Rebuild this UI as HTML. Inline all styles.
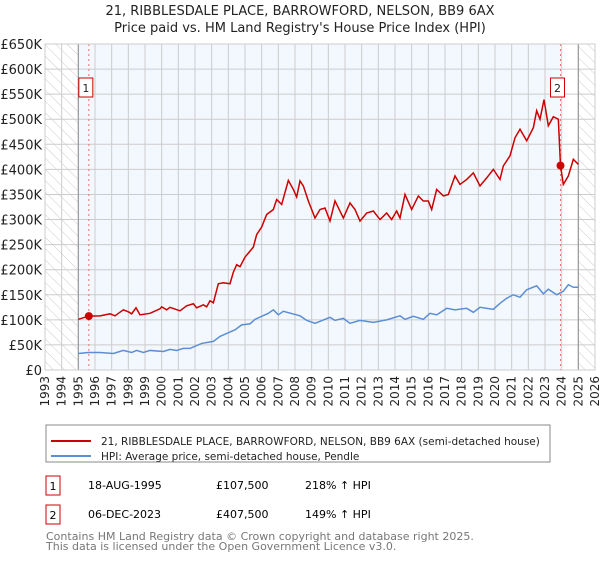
<!DOCTYPE html>
<html><head><meta charset="utf-8"><style>
body{margin:0;background:#fff;font-family:"Liberation Sans","DejaVu Sans",sans-serif;}
svg text{font-family:"DejaVu Sans","Liberation Sans",sans-serif;}
</style></head><body>
<svg id="c" width="600" height="560" viewBox="0 0 600 560" xmlns="http://www.w3.org/2000/svg">
<defs><pattern id="hatch" width="8" height="8" patternUnits="userSpaceOnUse" patternTransform="rotate(-45)"><line x1="0" y1="0" x2="0" y2="8" stroke="#ccc" stroke-width="1"/></pattern></defs>
<text x="300" y="15" text-anchor="middle" font-size="13" fill="#222">21, RIBBLESDALE PLACE, BARROWFORD, NELSON, BB9 6AX</text>
<text x="300" y="32" text-anchor="middle" font-size="13" fill="#222">Price paid vs. HM Land Registry's House Price Index (HPI)</text>
<g id="plot"></g>
<rect x="46" y="425" width="504" height="37" fill="#fff" stroke="#888"/>
<line x1="51" y1="441" x2="91" y2="441" stroke="#cc0000" stroke-width="2"/>
<text x="101" y="445" font-size="10.5" fill="#222">21, RIBBLESDALE PLACE, BARROWFORD, NELSON, BB9 6AX (semi-detached house)</text>
<line x1="51" y1="456" x2="91" y2="456" stroke="#5b8fd4" stroke-width="2"/>
<text x="101" y="460" font-size="10.5" fill="#222">HPI: Average price, semi-detached house, Pendle</text>
<g>
<rect x="46" y="476" width="14" height="19" fill="#fff" stroke="#cc0000"/><text x="53" y="490" text-anchor="middle" font-size="11">1</text>
<text x="88" y="489" font-size="11">18-AUG-1995</text><text x="216" y="489" font-size="11">£107,500</text><text x="305" y="489" font-size="11">218% ↑ HPI</text></g>
<g>
<rect x="46" y="505" width="14" height="19" fill="#fff" stroke="#cc0000"/><text x="53" y="519" text-anchor="middle" font-size="11">2</text>
<text x="88" y="518" font-size="11">06-DEC-2023</text><text x="216" y="518" font-size="11">£407,500</text><text x="305" y="518" font-size="11">149% ↑ HPI</text></g>
<text x="46" y="540" font-size="11" fill="#777">Contains HM Land Registry data © Crown copyright and database right 2025.</text>
<text x="46" y="550" font-size="11" fill="#777">This data is licensed under the Open Government Licence v3.0.</text>
</svg>
<script>
const yTicks=[0,50,100,150,200,250,300,350,400,450,500,550,600,650];
const yTickLabels=["£0","£50K","£100K","£150K","£200K","£250K","£300K","£350K","£400K","£450K","£500K","£550K","£600K","£650K"];
const xYears=[1993,1994,1995,1996,1997,1998,1999,2000,2001,2002,2003,2004,2005,2006,2007,2008,2009,2010,2011,2012,2013,2014,2015,2016,2017,2018,2019,2020,2021,2022,2023,2024,2025,2026];
const redYears=[1995,1995.63,1996.3,1996.9,1997.2,1997.7,1998,1998.2,1998.46,1998.7,1999.3,1999.9,2000,2000.3,2000.5,2001.1,2001.5,2001.9,2002.1,2002.5,2002.7,2002.9,2003.1,2003.4,2003.7,2004.1,2004.3,2004.5,2004.7,2005,2005.5,2005.7,2006,2006.3,2006.7,2006.9,2007.2,2007.6,2007.9,2008.1,2008.3,2008.5,2008.8,2009.2,2009.5,2009.8,2010.1,2010.4,2010.9,2011.3,2011.6,2011.9,2012.3,2012.7,2013.1,2013.5,2013.8,2014.1,2014.3,2014.6,2015,2015.4,2015.7,2016,2016.2,2016.5,2016.9,2017.2,2017.6,2017.9,2018.3,2018.7,2019.1,2019.5,2019.9,2020.3,2020.5,2020.9,2021.2,2021.5,2021.9,2022.3,2022.5,2022.7,2022.94,2023.2,2023.5,2023.8,2023.93,2024.1,2024.4,2024.7,2025];
const redValues=[101,107.5,108,112,108,120,116,112,124,110,113,122,126,120,125,118,128,132,124,130,126,138,134,172,174,172,195,210,206,225,245,270,285,310,320,340,330,378,360,345,377,367,337,303,320,323,297,337,303,333,320,297,313,317,300,313,300,317,303,350,320,347,337,337,320,360,347,350,387,370,380,393,367,383,400,380,407,427,463,480,457,483,517,500,539,487,505,500,407.5,370,387,420,410];
const blueYears=[1995,1995.6,1996.3,1997.1,1997.7,1998.2,1998.5,1998.9,1999.3,2000.1,2000.5,2000.9,2001.3,2001.7,2002.4,2003.1,2003.5,2003.9,2004.4,2004.8,2005.3,2005.6,2006,2006.4,2006.7,2007,2007.3,2008.3,2008.7,2009.2,2010.1,2010.4,2010.9,2011.3,2011.9,2012.7,2013.5,2014.3,2014.6,2015.1,2015.7,2016.1,2016.5,2017.1,2017.6,2018.3,2018.7,2019.1,2019.9,2020.3,2020.7,2021.1,2021.5,2021.9,2022.5,2022.9,2023.2,2023.7,2024.1,2024.4,2024.7,2025];
const blueValues=[33,35,35,33,39,35,39,35,39,37,41,39,43,43,53,57,67,73,80,90,92,101,107,113,120,110,117,108,99,93,105,99,103,93,99,95,100,108,101,107,101,113,110,123,120,123,115,125,121,133,143,150,145,160,168,152,161,150,157,170,165,165];
const sales=[{y:1995.63,v:107.5,n:"1"},{y:2023.93,v:407.5,n:"2"}];
const L=45,R=595,T=44,B=370;
const X=y=>L+(y-1993)*(R-L)/33;
const Y=v=>B-v*(B-T)/650;
const NS="http://www.w3.org/2000/svg";
const g=document.getElementById('plot');
function el(t,a,p){const e=document.createElementNS(NS,t);for(const k in a)e.setAttribute(k,a[k]);(p||g).appendChild(e);return e;}
let e;
e=el('rect',{x:L,y:T,width:R-L,height:B-T,fill:'#fff'});


e=el('rect',{x:X(1995),y:T,width:X(sales[1].y)-X(1995),height:B-T,fill:'#f3f7fe'});


e=el('rect',{x:L,y:T,width:X(1995)-L,height:B-T,fill:'url(#hatch)'});


e=el('rect',{x:X(2025),y:T,width:R-X(2025),height:B-T,fill:'url(#hatch)'});


xYears.forEach(yr=>{
 e=el('line',{x1:X(yr),x2:X(yr),y1:T,y2:B,stroke:'#ccc','stroke-width':1});
 
 
 e=el('text',{x:0,y:0,'font-size':12,fill:'#222','text-anchor':'end',transform:`translate(${X(yr)+4},376) rotate(-90)`});
 e.textContent=yr;
 
 
});
yTicks.forEach((v,i)=>{
 e=el('line',{x1:L,x2:R,y1:Y(v),y2:Y(v),stroke:'#ccc','stroke-width':1});
 
 
 e=el('text',{x:42,y:Y(v)+5,'font-size':13,fill:'#222','text-anchor':'end'});
 e.textContent=yTickLabels[i];
 
 
});
e=el('line',{x1:X(1995),x2:X(1995),y1:T,y2:B,stroke:'#999','stroke-width':1.2});


e=el('line',{x1:X(2025),x2:X(2025),y1:T,y2:B,stroke:'#999','stroke-width':1.2});


sales.forEach(s=>{
 e=el('line',{x1:X(s.y),x2:X(s.y),y1:T,y2:B,stroke:'#f07070','stroke-width':1,'stroke-dasharray':'2,3'});
 
 
 e=el('rect',{x:X(s.y)-10,y:78,width:14,height:19,fill:'#fff',stroke:'#cc0000'});
 
 
 e=el('text',{x:X(s.y)-3,y:92,'font-size':11,'text-anchor':'middle',fill:'#222'});
 e.textContent=s.n;
 
 
});
e=el('polyline',{points:blueYears.map((y,i)=>X(y)+','+Y(blueValues[i])).join(' '),fill:'none',stroke:'#5b8fd4','stroke-width':1.5});


e=el('polyline',{points:redYears.map((y,i)=>X(y)+','+Y(redValues[i])).join(' '),fill:'none',stroke:'#cc0000','stroke-width':1.5});


sales.forEach(s=>{
 e=el('circle',{cx:X(s.y),cy:Y(s.v),r:4,fill:'#cc0000'});
 
 
});
e=el('rect',{x:L,y:T,width:R-L,height:B-T,fill:'none',stroke:'#ccc'});


</script>
</body></html>
